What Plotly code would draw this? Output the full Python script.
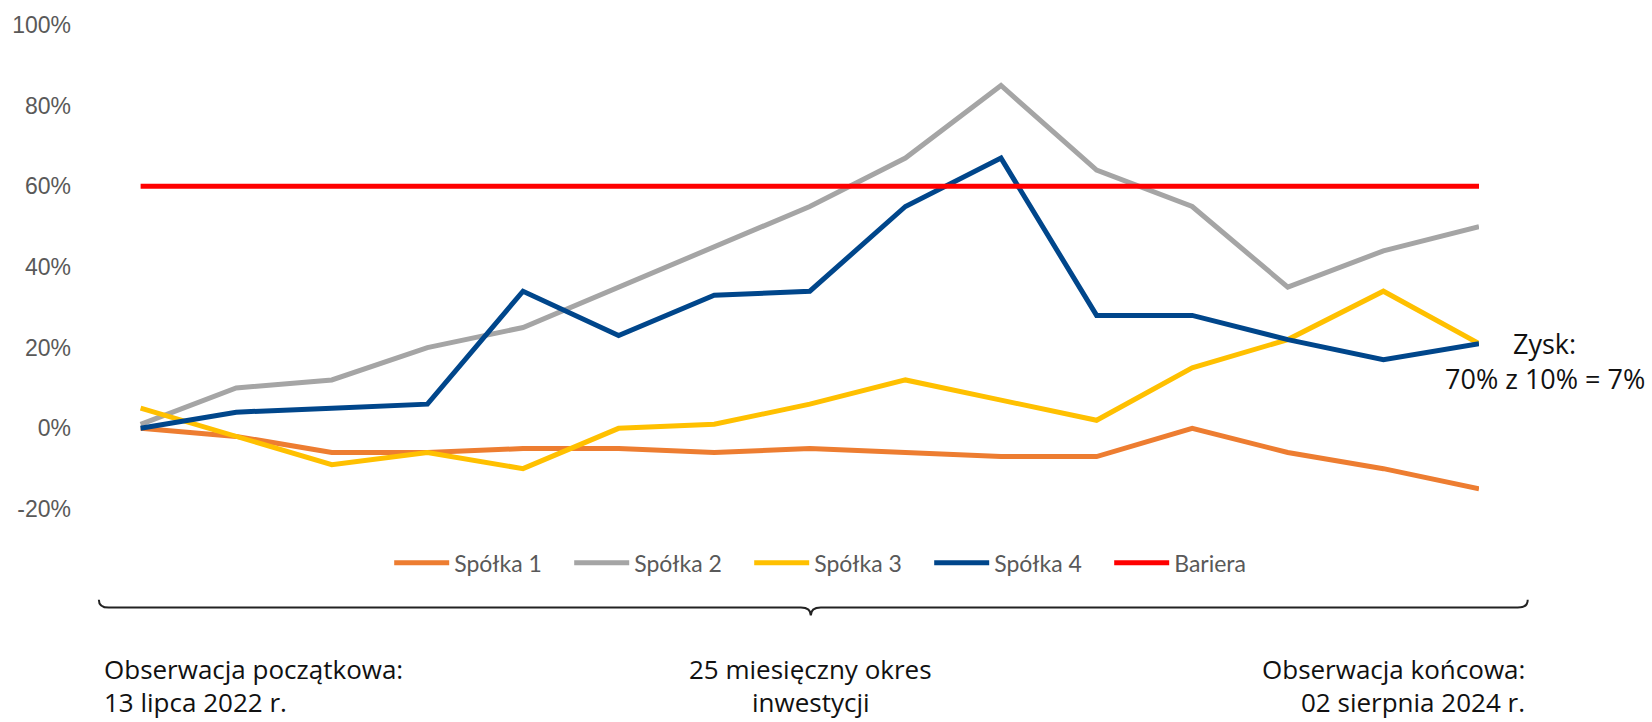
import plotly.graph_objects as go

# ---- data (percent change) ----
obs = list(range(15))
spolka1 = [0, -2, -6, -6, -5, -5, -6, -5, -6, -7, -7, 0, -6, -10, -15]
spolka2 = [1, 10, 12, 20, 25, 35, 45, 55, 67, 85, 64, 55, 35, 44, 50]
spolka3 = [5, -2, -9, -6, -10, 0, 1, 6, 12, 7, 2, 15, 22, 34, 21]
spolka4 = [0, 4, 5, 6, 34, 23, 33, 34, 55, 67, 28, 28, 22, 17, 21]
bariera = [60] * 15
series_names = ["Spółka 1", "Spółka 2", "Spółka 3", "Spółka 4", "Bariera"]
series_vals = [spolka1, spolka2, spolka3, spolka4, bariera]
colors = ["#ED7D31", "#A5A5A5", "#FFC000", "#00468B", "#FF0000"]
y_ticks = [-20, 0, 20, 40, 60, 80, 100]
y_ticktext = [f"{v}%" for v in y_ticks]

W, H = 1652, 722
L, R, T, B = 64, 173, 23, 213
PW, PH = W - L - R, H - T - B
X0PX = 133  # pixel of first observation


def px2x(px):
    return (px - L) / PW


def py2y(py):
    return 1 - (py - T) / PH


fig = go.Figure()
for name, vals, col in zip(series_names, series_vals, colors):
    fig.add_trace(go.Scatter(
        x=obs, y=vals, name=name, mode="lines",
        line=dict(color=col, width=5), cliponaxis=False,
    ))

# brace
x0, x1, xm = 91, 1528, 807
yt, yl, ytip = 600, 608, 616
pts = [
    f"M {px2x(x0)},{py2y(yt)}",
    f"Q {px2x(x0)},{py2y(yl)} {px2x(x0+10)},{py2y(yl)}",
    f"L {px2x(xm-10)},{py2y(yl)}",
    f"Q {px2x(xm)},{py2y(yl)} {px2x(xm)},{py2y(ytip)}",
    f"Q {px2x(xm)},{py2y(yl)} {px2x(xm+10)},{py2y(yl)}",
    f"L {px2x(x1-10)},{py2y(yl)}",
    f"Q {px2x(x1)},{py2y(yl)} {px2x(x1)},{py2y(yt)}",
]
fig.add_shape(type="path", xref="paper", yref="paper", path=" ".join(pts),
              line=dict(color="#222222", width=2))

txt_font = dict(family="Open Sans, Lato, sans-serif", size=26, color="#111111")
bottom_texts = [
    (94, "left", ["Obserwacja początkowa:", "13 lipca 2022 r."]),
    (807, "center", ["25 miesięczny okres", "inwestycji"]),
    (1527, "right", ["Obserwacja końcowa:", "02 sierpnia 2024 r."]),
]
for xpx, anchor, lines in bottom_texts:
    for ypx, line in zip([670, 703], lines):
        fig.add_annotation(xref="paper", yref="paper", x=px2x(xpx), y=py2y(ypx),
                           xanchor=anchor, yanchor="middle", showarrow=False,
                           text=line, font=txt_font)

zysk_font = dict(family="Open Sans, sans-serif", size=27, color="#111111")
for ypx, line in zip([343, 378], ["Zysk:", "70% z 10% = 7%"]):
    fig.add_annotation(xref="paper", yref="paper", x=px2x(1545), y=py2y(ypx),
                       xanchor="center", yanchor="middle", showarrow=False,
                       text=line, font=zysk_font)

fig.update_layout(
    width=W, height=H,
    margin=dict(l=L, r=R, t=T, b=B),
    plot_bgcolor="white", paper_bgcolor="white",
    showlegend=True,
    legend=dict(orientation="h", x=px2x(383), y=py2y(563), xanchor="left", yanchor="middle",
                font=dict(family="Lato, Roboto, sans-serif", size=23, color="#595959"),
                itemwidth=55,
                entrywidth=110, entrywidthmode="pixels", bgcolor="rgba(0,0,0,0)"),
    xaxis=dict(range=[-(X0PX - L) / ((1479 - X0PX) / 14), 14], visible=False,
               showgrid=False, zeroline=False),
    yaxis=dict(range=[-20, 100], tickvals=y_ticks, ticktext=y_ticktext,
               showgrid=False, zeroline=False, showline=False, ticks="",
               tickfont=dict(family="Liberation Sans, Arial, sans-serif", size=23, color="#595959")),
)

fig.write_html("out.html", config={"displayModeBar": False},
               post_script="document.body.style.margin='0';")
